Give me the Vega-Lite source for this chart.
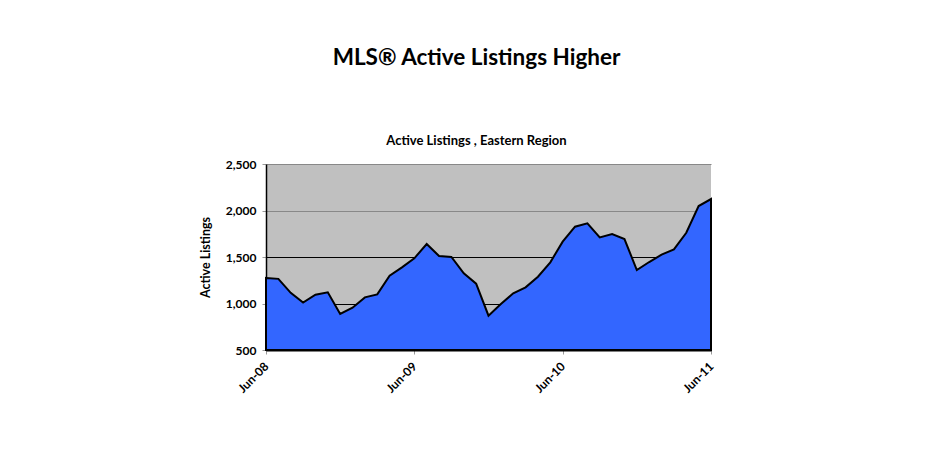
{
  "$schema": "https://vega.github.io/schema/vega-lite/v6.json",
  "autosize": "none",
  "width": 445,
  "height": 186,
  "padding": {"left": 266, "top": 164, "right": 232, "bottom": 111},
  "background": "white",
  "title": {
    "text": "MLS® Active Listings Higher",
    "subtitle": "Active Listings , Eastern Region",
    "font": "Lato",
    "fontSize": 22.5,
    "fontWeight": "bold",
    "color": "black",
    "subtitleFont": "Lato",
    "subtitleFontSize": 13,
    "subtitleFontWeight": "bold",
    "subtitleColor": "black",
    "subtitlePadding": 66,
    "offset": 10,
    "anchor": "middle",
    "dx": -12
  },
  "data": {
    "values": [
      {"month": "Jun-08", "listings": 1275},
      {"month": "Jul-08", "listings": 1265},
      {"month": "Aug-08", "listings": 1115},
      {"month": "Sep-08", "listings": 1010},
      {"month": "Oct-08", "listings": 1094},
      {"month": "Nov-08", "listings": 1120},
      {"month": "Dec-08", "listings": 887},
      {"month": "Jan-09", "listings": 955},
      {"month": "Feb-09", "listings": 1066},
      {"month": "Mar-09", "listings": 1098},
      {"month": "Apr-09", "listings": 1299},
      {"month": "May-09", "listings": 1389},
      {"month": "Jun-09", "listings": 1486},
      {"month": "Jul-09", "listings": 1640},
      {"month": "Aug-09", "listings": 1510},
      {"month": "Sep-09", "listings": 1500},
      {"month": "Oct-09", "listings": 1324},
      {"month": "Nov-09", "listings": 1213},
      {"month": "Dec-09", "listings": 869},
      {"month": "Jan-10", "listings": 994},
      {"month": "Feb-10", "listings": 1109},
      {"month": "Mar-10", "listings": 1174},
      {"month": "Apr-10", "listings": 1288},
      {"month": "May-10", "listings": 1443},
      {"month": "Jun-10", "listings": 1665},
      {"month": "Jul-10", "listings": 1826},
      {"month": "Aug-10", "listings": 1862},
      {"month": "Sep-10", "listings": 1711},
      {"month": "Oct-10", "listings": 1747},
      {"month": "Nov-10", "listings": 1693},
      {"month": "Dec-10", "listings": 1360},
      {"month": "Jan-11", "listings": 1446},
      {"month": "Feb-11", "listings": 1525},
      {"month": "Mar-11", "listings": 1582},
      {"month": "Apr-11", "listings": 1761},
      {"month": "May-11", "listings": 2048},
      {"month": "Jun-11", "listings": 2123}
    ]
  },
  "mark": {
    "type": "area",
    "color": "#3366FF",
    "stroke": "black",
    "strokeWidth": 2,
    "strokeJoin": "miter",
    "opacity": 1
  },
  "encoding": {
    "x": {
      "field": "month",
      "type": "ordinal",
      "sort": null,
      "scale": {"type": "point", "padding": 0},
      "axis": {
        "title": null,
        "values": ["Jun-08", "Jun-09", "Jun-10", "Jun-11"],
        "labelAngle": -45,
        "labelAlign": "right",
        "labelBaseline": "middle",
        "labelFont": "Lato",
        "labelFontSize": 12,
        "labelFontWeight": "bold",
        "labelColor": "black",
        "labelPadding": 10,
        "domainColor": "black",
        "domainWidth": 2,
        "tickColor": "#999999",
        "tickSize": 4,
        "grid": false
      }
    },
    "y": {
      "field": "listings",
      "type": "quantitative",
      "scale": {"domain": [500, 2500], "zero": false, "nice": false},
      "axis": {
        "title": "Active Listings",
        "titleFont": "Lato",
        "titleFontSize": 12.5,
        "titleFontWeight": "bold",
        "titleColor": "black",
        "titlePadding": 13,
        "values": [500, 1000, 1500, 2000, 2500],
        "format": ",d",
        "labelFont": "Lato",
        "labelFontSize": 12,
        "labelFontWeight": "bold",
        "labelColor": "black",
        "labelPadding": 6,
        "domainColor": "black",
        "domainWidth": 1.5,
        "tickColor": "#999999",
        "tickSize": 4,
        "grid": true,
        "gridColor": {"condition": {"test": "datum.value === 1500 || datum.value === 1000", "value": "black"}, "value": "#888888"},
        "gridWidth": 1.2,
        "gridOpacity": 1
      }
    },
    "y2": {"datum": 500}
  },
  "config": {
    "view": {"fill": "#C0C0C0", "stroke": null}
  }
}
